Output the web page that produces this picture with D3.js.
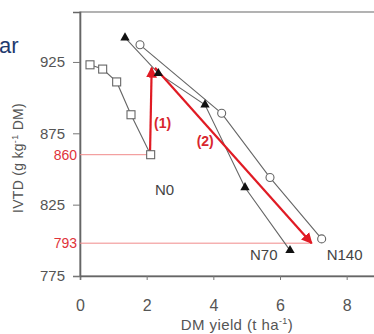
<!DOCTYPE html>
<html>
<head>
<meta charset="utf-8">
<script src="https://cdn.jsdelivr.net/npm/d3@7"></script>
<style>
  body { margin: 0; background: #fff; }
  svg { display: block; font-family: 'Liberation Sans', Arial, sans-serif; }
</style>
</head>
<body>
<div id="chart"></div>
<script>
// series (x = DM yield t/ha, y = IVTD g/kg DM)
var n0X = [0.30, 0.68, 1.10, 1.53, 2.12];
var n0Y = [923, 920, 911, 888, 860];
var n70X = [1.35, 2.35, 3.75, 4.95, 6.30];
var n70Y = [942, 917, 895, 837, 793];
var n140X = [1.80, 4.25, 5.70, 7.25];
var n140Y = [937, 889, 844, 801];
var xTicks = [0, 2, 4, 6, 8];
var yTicks = [775, 825, 875, 925];
var refValues = [860, 798];
var refLabels = ['860', '793'];
var arrow1 = [[2.1, 860], [2.15, 921]];
var arrow2 = [[2.25, 921], [6.95, 798]];

var width = 374, height = 334;
var margin = {top: 12, left: 80, bottom: 58};
var plotW = 300, plotH = height - margin.top - margin.bottom;

var svg = d3.select('#chart').append('svg').attr('width', width).attr('height', height);

svg.append('defs').append('marker')
  .attr('id', 'head')
  .attr('viewBox', '0 0 10 10')
  .attr('refX', 9).attr('refY', 5)
  .attr('markerWidth', 5).attr('markerHeight', 5)
  .attr('orient', 'auto')
  .append('path').attr('d', 'M0,0 L10,5 L0,10 z').attr('fill', '#e01b24');

var g = svg.append('g').attr('transform', 'translate(' + margin.left + ',' + margin.top + ')');

var x = d3.scaleLinear().domain([0, 9]).range([0, plotW]);
var y = d3.scaleLinear().domain([775, 960]).range([plotH, 0]);

// slide title left-over
svg.append('text').attr('x', -1).attr('y', 53)
  .attr('font-size', 22).attr('fill', '#1f3a6e').text('ar');

// frame
g.append('rect').attr('x', 0).attr('y', 0).attr('width', plotW).attr('height', plotH)
  .attr('fill', 'none').attr('stroke', '#8a8a8a').attr('stroke-width', 1.3);

// axes
var xAxis = g.append('g').attr('transform', 'translate(0,' + plotH + ')')
  .call(d3.axisBottom(x).tickValues(xTicks).tickSize(4).tickPadding(20));
var yAxis = g.append('g')
  .call(d3.axisLeft(y).tickValues(yTicks).tickSize(7).tickPadding(8));
[xAxis, yAxis].forEach(function (a) {
  a.select('.domain').attr('stroke', '#666').attr('stroke-width', 1.6);
  a.selectAll('.tick line').attr('stroke', '#777');
  a.selectAll('.tick text').attr('fill', '#555');
});
xAxis.selectAll('.tick text').attr('font-size', 16);
yAxis.selectAll('.tick text').attr('font-size', 15);

// reference lines
refValues.forEach(function (v, i) {
  var endX = i === 0 ? x(n0X[n0X.length - 1]) : x(arrow2[1][0]);
  g.append('line').attr('x1', 0).attr('x2', endX)
    .attr('y1', y(v)).attr('y2', y(v))
    .attr('stroke', '#f08a8a').attr('stroke-width', 1);
  g.append('text').attr('x', -3).attr('y', y(v)).attr('dy', '0.35em')
    .attr('text-anchor', 'end').attr('font-size', 14).attr('fill', '#e0333a')
    .text(refLabels[i]);
});

var line = d3.line().x(function (d) { return x(d[0]); }).y(function (d) { return y(d[1]); });
function pts(xs, ys) { return xs.map(function (v, i) { return [v, ys[i]]; }); }

var n0 = pts(n0X, n0Y), n70 = pts(n70X, n70Y), n140 = pts(n140X, n140Y);

[n0, n70, n140].forEach(function (s) {
  g.append('path').datum(s).attr('d', line)
    .attr('fill', 'none').attr('stroke', '#666').attr('stroke-width', 1.1);
});

// arrows
[arrow1, arrow2].forEach(function (a) {
  g.append('path').datum(a).attr('d', line)
    .attr('stroke', '#e01b24').attr('stroke-width', 2.2)
    .attr('marker-end', 'url(#head)');
});

g.selectAll('.sq').data(n0).enter().append('rect')
  .attr('x', function (d) { return x(d[0]) - 4; })
  .attr('y', function (d) { return y(d[1]) - 4; })
  .attr('width', 8).attr('height', 8)
  .attr('fill', '#fff').attr('stroke', '#666').attr('stroke-width', 1.1);

g.selectAll('.ci').data(n140).enter().append('circle')
  .attr('cx', function (d) { return x(d[0]); })
  .attr('cy', function (d) { return y(d[1]); })
  .attr('r', 4)
  .attr('fill', '#fff').attr('stroke', '#666').attr('stroke-width', 1.1);

g.selectAll('.tr').data(n70).enter().append('path')
  .attr('transform', function (d) { return 'translate(' + x(d[0]) + ',' + y(d[1]) + ')'; })
  .attr('d', d3.symbol().type(d3.symbolTriangle).size(38))
  .attr('fill', '#111');

// labels
g.append('text').attr('x', x(2.22)).attr('y', y(879)).attr('font-size', 14)
  .attr('font-weight', 'bold').attr('fill', '#d8262e').text('(1)');
g.append('text').attr('x', x(3.5)).attr('y', y(866)).attr('font-size', 14)
  .attr('font-weight', 'bold').attr('fill', '#d8262e').text('(2)');

g.append('text').attr('x', x(2.25)).attr('y', y(832)).attr('font-size', 15)
  .attr('fill', '#444').text('N0');
g.append('text').attr('x', x(5.1)).attr('y', y(786)).attr('font-size', 15)
  .attr('fill', '#444').text('N70');
g.append('text').attr('x', x(7.4)).attr('y', y(786)).attr('font-size', 15)
  .attr('fill', '#444').text('N140');

// axis titles
svg.append('text').attr('x', 237).attr('y', 330).attr('text-anchor', 'middle')
  .attr('font-size', 15).attr('letter-spacing', 0.4).attr('fill', '#555')
  .html('DM yield (t ha<tspan dy="-6" font-size="9">-1</tspan><tspan dy="6">)</tspan>');

svg.append('text').attr('transform', 'translate(23,158) rotate(-90)')
  .attr('text-anchor', 'middle').attr('font-size', 14).attr('letter-spacing', 0.3).attr('fill', '#555')
  .html('IVTD (g kg<tspan dy="-5" font-size="9">-1</tspan><tspan dy="5"> DM)</tspan>');
</script>
</body>
</html>
